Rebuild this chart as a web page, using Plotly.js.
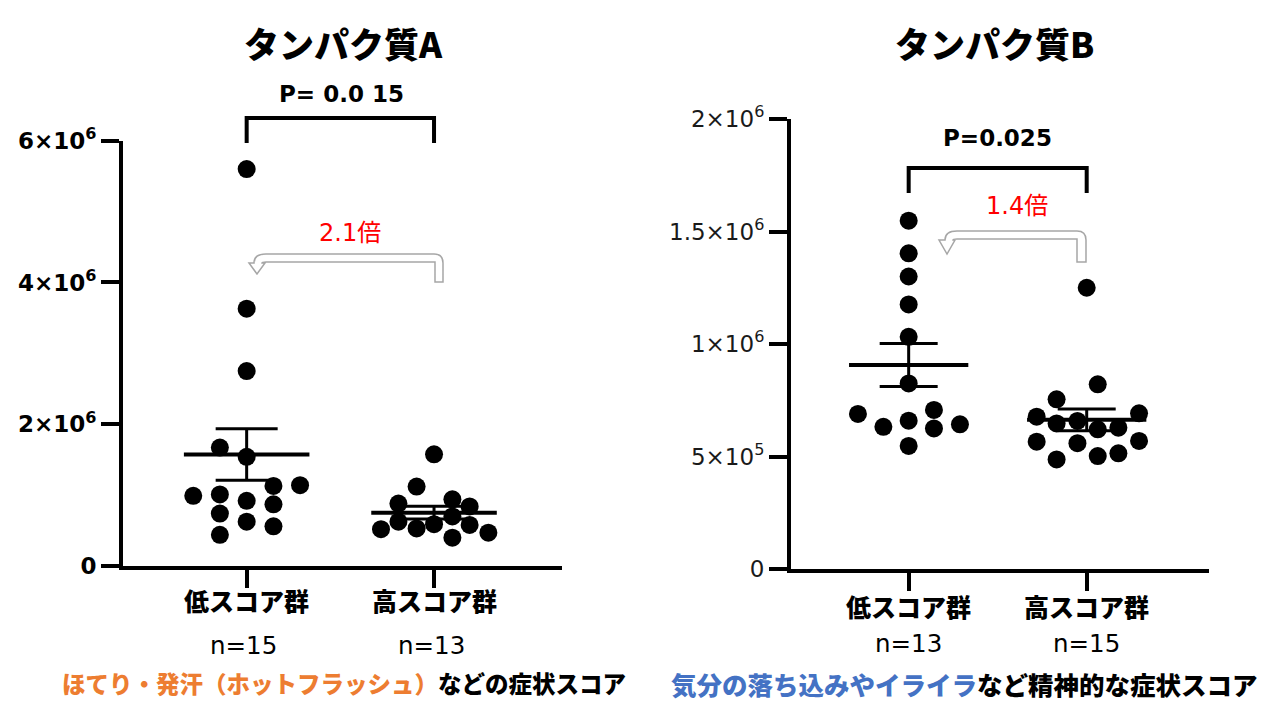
<!DOCTYPE html>
<html><head><meta charset="utf-8">
<script src="https://cdn.plot.ly/plotly-3.0.1.min.js"></script>
<style>html,body{margin:0;padding:0;background:#fff}#c{width:1272px;height:704px}</style>
</head><body><div id="c"></div>
<script>
// ---------- data ----------
const categories = ['低スコア群', '高スコア群'];
const titleA = 'タンパク質A';
const titleB = 'タンパク質B';
const nLabelsA = ['n=15', 'n=13'];
const nLabelsB = ['n=13', 'n=15'];
const pLabelA = 'P= 0.0 15';
const pLabelB = 'P=0.025';
const foldA = '2.1倍';
const foldB = '1.4倍';

// protein A, low-score group (n=15) and its horizontal jitter (category units)
const aLow   = [5.60e6, 3.63e6, 2.75e6, 1.67e6, 1.54e6, 0.99e6, 1.01e6, 1.13e6, 1.14e6, 0.92e6, 0.87e6, 0.74e6, 0.625e6, 0.56e6, 0.44e6];
const aLowDx = [0, 0, 0, -0.143, 0, -0.285, -0.143, 0.143, 0.285, 0, 0.143, -0.143, 0, 0.143, -0.143];
// protein A, high-score group (n=13)
const aHigh   = [1.575e6, 1.12e6, 0.88e6, 0.94e6, 0.84e6, 0.625e6, 0.70e6, 0.59e6, 0.53e6, 0.58e6, 0.52e6, 0.47e6, 0.40e6];
const aHighDx = [0, -0.093, -0.19, 0.098, 0.19, -0.19, 0.098, 0, -0.093, 0.19, -0.283, 0.29, 0.098];
// protein B, low-score group (n=13)
const bLow   = [1.548e6, 1.403e6, 1.30e6, 1.176e6, 1.032e6, 0.825e6, 0.689e6, 0.707e6, 0.659e6, 0.632e6, 0.625e6, 0.643e6, 0.547e6];
const bLowDx = [0, 0, 0, 0, 0, 0, -0.285, 0.142, 0, -0.142, 0.142, 0.288, 0];
// protein B, high-score group (n=15)
const bHigh   = [1.25e6, 0.821e6, 0.754e6, 0.692e6, 0.677e6, 0.658e6, 0.647e6, 0.621e6, 0.628e6, 0.566e6, 0.559e6, 0.569e6, 0.514e6, 0.502e6, 0.487e6];
const bHighDx = [0, 0.062, -0.169, 0.294, -0.281, -0.052, -0.169, 0.062, 0.178, -0.281, -0.052, 0.294, 0.178, 0.062, -0.169];

const yTickValsA = [0, 2e6, 4e6, 6e6];
const yTickTextA = ['0', '2×10<sup>6</sup>', '4×10<sup>6</sup>', '6×10<sup>6</sup>'];
const yTickValsB = [0, 5e5, 1e6, 1.5e6, 2e6];
const yTickTextB = ['0', '5×10<sup>5</sup>', '1×10<sup>6</sup>', '1.5×10<sup>6</sup>', '2×10<sup>6</sup>'];

// ---------- geometry ----------
const W = 1272, H = 704;
const geo = {
  A: {xPx: [123, 562], yPx: [140.7, 566], xr: [-0.66, 1.683], yr: [0, 6e6]},
  B: {xPx: [791, 1209], yPx: [119, 569], xr: [-0.661, 1.687], yr: [0, 2e6]}
};
const px = x => x / W;
const py = y => 1 - y / H;
function catPx(g, c) { return g.xPx[0] + (c - g.xr[0]) / (g.xr[1] - g.xr[0]) * (g.xPx[1] - g.xPx[0]); }
function pathPx(s) {
  const t = s.trim().split(/\s+/); let out = [], isX = true;
  for (const k of t) {
    if (/^[A-Za-z]$/.test(k)) { out.push(k); isX = true; }
    else { const v = parseFloat(k); out.push((isX ? px(v) : py(v)).toFixed(5)); isX = !isX; }
  }
  return out.join(' ');
}
const mean = a => a.reduce((s, v) => s + v, 0) / a.length;
function sem(a) { const m = mean(a); const v = a.reduce((s, x) => s + (x - m) * (x - m), 0) / (a.length - 1); return Math.sqrt(v / a.length); }

// ---------- traces ----------
const traces = [];
function addGroup(vals, dx, cat, xa, ya, capPx) {
  traces.push({type: 'scatter', mode: 'markers', x: vals.map((v, i) => cat + dx[i]), y: vals,
    xaxis: xa, yaxis: ya, marker: {color: '#000', size: 18}, cliponaxis: false, hoverinfo: 'y'});
  const m = mean(vals);
  traces.push({type: 'scatter', mode: 'lines', x: [cat - 0.335, cat + 0.335], y: [m, m],
    xaxis: xa, yaxis: ya, line: {color: '#000', width: 4}, hoverinfo: 'skip'});
  traces.push({type: 'scatter', mode: 'markers', x: [cat], y: [m], xaxis: xa, yaxis: ya,
    marker: {color: '#000', size: 1}, hoverinfo: 'skip',
    error_y: {type: 'data', array: [sem(vals)], visible: true, color: '#000', thickness: 3, width: capPx}});
}
addGroup(aLow, aLowDx, 0, 'x', 'y', 31);
addGroup(aHigh, aHighDx, 1, 'x', 'y', 31);
addGroup(bLow, bLowDx, 0, 'x2', 'y2', 29);
addGroup(bHigh, bHighDx, 1, 'x2', 'y2', 29);

// ---------- axes ----------
function xAxis(g) {
  return {domain: [px(g.xPx[0]), px(g.xPx[1])], range: g.xr, showgrid: false, zeroline: false,
    showline: true, linecolor: '#000', linewidth: 4, ticks: 'outside', ticklen: 18, tickwidth: 4,
    tickcolor: '#000', tickvals: [0, 1], showticklabels: false, fixedrange: true};
}
function yAxis(g, vals, text, font, anchor) {
  return {domain: [py(g.yPx[1]), py(g.yPx[0])], range: g.yr, showgrid: false, zeroline: false,
    showline: true, linecolor: '#000', linewidth: 4, ticks: 'outside', ticklen: 18, tickwidth: 4,
    tickcolor: '#000', tickvals: vals, ticktext: text, tickfont: font, anchor: anchor, fixedrange: true};
}

// ---------- annotations ----------
const cjk = 'Noto Sans CJK JP';
const num = 'DejaVu Sans';
const ann = [];
function txt(text, x, y, font, extra) {
  ann.push(Object.assign({text: text, xref: 'paper', yref: 'paper', x: px(x), y: py(y),
    xanchor: 'center', yanchor: 'middle', showarrow: false, font: font}, extra || {}));
}
txt(titleA, 343, 43, {family: cjk, size: 35, color: '#000', weight: 900});
txt(titleB, 994, 43, {family: cjk, size: 35, color: '#000', weight: 900});
txt(pLabelA, 341, 93.5, {family: num, size: 23, color: '#000', weight: 'bold'});
txt(pLabelB, 997, 137.5, {family: num, size: 23, color: '#000', weight: 'bold'});
txt(foldA, 350, 233, {family: num + ', ' + cjk, size: 24, color: '#FF0000'});
txt(foldB, 1017, 206, {family: num + ', ' + cjk, size: 24, color: '#FF0000'});
[0, 1].forEach(c => {
  txt(categories[c], catPx(geo.A, c), 600, {family: cjk, size: 25, color: '#000', weight: 900});
  txt(categories[c], catPx(geo.B, c), 606, {family: cjk, size: 25, color: '#000', weight: 900});
  txt(nLabelsA[c], catPx(geo.A, c) - 3, 645, {family: num, size: 24.5, color: '#000'});
  txt(nLabelsB[c], catPx(geo.B, c), 643, {family: num, size: 24.5, color: '#000'});
});
txt('<span style="color:#ED7D31">ほてり・発汗（ホットフラッシュ）</span>などの症状スコア', 344, 683,
  {family: cjk, size: 23.5, color: '#000', weight: 900});
txt('<span style="color:#4472C4">気分の落ち込みやイライラ</span>など精神的な症状スコア', 964, 683,
  {family: cjk, size: 25.5, color: '#000', weight: 900});

// ---------- shapes (brackets, fold arrows) ----------
const shapes = [];
function bracket(g, yTop, yLeg) {
  const x0 = catPx(g, 0), x1 = catPx(g, 1);
  shapes.push({type: 'path', xref: 'paper', yref: 'paper',
    path: pathPx(`M ${x0} ${yLeg} L ${x0} ${yTop} L ${x1} ${yTop} L ${x1} ${yLeg}`),
    line: {color: '#000', width: 4}});
}
bracket(geo.A, 118, 143);
bracket(geo.B, 168, 193);
shapes.push({type: 'path', xref: 'paper', yref: 'paper', fillcolor: '#fff', line: {color: '#A6A6A6', width: 1.5},
  path: pathPx('M 443 282 L 443 263 Q 443 254 434 254 L 266 254 Q 254 254 254 263 L 249 263 L 257 274 L 265 263 L 262 263 Q 262 262 266 262 L 435 262 L 435 282 Z')});
shapes.push({type: 'path', xref: 'paper', yref: 'paper', fillcolor: '#fff', line: {color: '#A6A6A6', width: 1.5},
  path: pathPx('M 1086 262 L 1086 240 Q 1086 231 1077 231 L 957 231 Q 945 231 945 240 L 939 240 L 947 254 L 955 240 L 953 240 Q 953 239 957 239 L 1077 239 L 1077 262 Z')});

const layout = {
  width: W, height: H, margin: {l: 0, r: 0, t: 0, b: 0}, paper_bgcolor: '#fff', plot_bgcolor: 'rgba(0,0,0,0)',
  showlegend: false,
  xaxis: Object.assign(xAxis(geo.A), {anchor: 'y'}),
  yaxis: yAxis(geo.A, yTickValsA, yTickTextA, {family: num, size: 23, color: '#000', weight: 'bold'}, 'x'),
  xaxis2: Object.assign(xAxis(geo.B), {anchor: 'y2'}),
  yaxis2: yAxis(geo.B, yTickValsB, yTickTextB, {family: num, size: 23, color: '#1a1a1a'}, 'x2'),
  annotations: ann, shapes: shapes
};
Plotly.newPlot('c', traces, layout, {displayModeBar: false, staticPlot: true});
</script></body></html>
